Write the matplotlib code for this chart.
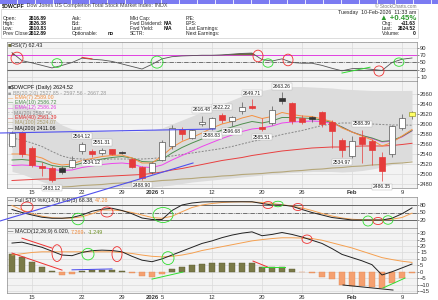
import matplotlib
matplotlib.use('Agg')
import matplotlib.pyplot as plt
from matplotlib.patches import Rectangle, Ellipse
from matplotlib.lines import Line2D
import numpy as np

plt.rcParams['font.family'] = ['Liberation Sans', 'DejaVu Sans']

W, H, DPI = 439, 300, 100

# ---------------- data ----------------
tick_pos = [2, 7, 11, 14, 15, 20, 25, 29, 34, 39]
tick_labels = ['15', '22', '29', '2026', '5', '12', '20', '26', 'Feb', '9']
bold_ticks = ['2026', 'Feb']

opens = [2557, 2585, 2552, 2516, 2513, 2512, 2515, 2546, 2546, 2542,
         2550, 2544, 2530, 2514, 2505, 2528, 2556, 2590, 2572, 2600,
         2592, 2618, 2606, 2627, 2636, 2594, 2602, 2652, 2642, 2613,
         2614, 2624, 2605, 2569, 2537, 2574, 2566, 2535, 2540, 2593,
         2616.89]
highs = [2586, 2587, 2556, 2524, 2516, 2516, 2536, 2564.12, 2550, 2551.31,
         2551, 2546, 2532, 2516, 2524, 2568, 2598, 2594, 2590, 2616.48,
         2614, 2622.22, 2616, 2645, 2649.71, 2612, 2636, 2663.26, 2645, 2618,
         2616, 2626, 2608, 2572, 2576, 2588.39, 2570, 2545, 2598, 2621,
         2626.38]
lows = [2554, 2535, 2514, 2497, 2483.12, 2500, 2512, 2540, 2534.12, 2538,
        2538, 2540, 2512, 2488.90, 2500, 2526, 2550, 2568, 2570, 2596,
        2588.83, 2603, 2596.68, 2620, 2630, 2585.51, 2598, 2640, 2600, 2600,
        2604, 2595, 2552, 2534.97, 2532, 2522, 2518, 2486.35, 2535, 2588,
        2610.83]
closes = [2583, 2540, 2518, 2512, 2488, 2505, 2528, 2560, 2541, 2548,
          2541, 2543, 2515, 2492, 2522, 2565, 2592, 2580, 2588, 2605,
          2612, 2609, 2614, 2635, 2632, 2590, 2629, 2646, 2606, 2604,
          2611, 2600, 2587, 2549, 2566, 2560, 2549, 2507, 2596, 2612.89,
          2624.52]
prev_close_start = 2550
label_high_days = [7, 9, 19, 21, 24, 27, 35]
label_low_days = [4, 8, 13, 20, 22, 25, 33, 37]

bb_upper = [2642, 2638, 2632, 2625, 2612, 2598, 2590, 2588, 2587, 2586,
            2585, 2585, 2585, 2586, 2588, 2592, 2600, 2608, 2616, 2624,
            2632, 2640, 2648, 2656, 2662, 2667, 2671, 2674, 2675, 2675,
            2674, 2673, 2672, 2670, 2669, 2668, 2667, 2667, 2667, 2667, 2667.28]
bb_lower = [2505, 2500, 2492, 2485, 2478, 2474, 2472, 2472, 2472, 2473,
            2474, 2475, 2475, 2474, 2474, 2476, 2478, 2481, 2484, 2486,
            2488, 2490, 2492, 2494, 2496, 2498, 2500, 2502, 2503, 2504,
            2505, 2505, 2505, 2504, 2505, 2507, 2510, 2514, 2519, 2524, 2527.85]
ma20 = [2572, 2568, 2562, 2555, 2545, 2536, 2531, 2530, 2529, 2529,
        2530, 2530, 2530, 2530, 2531, 2533, 2536, 2539, 2542, 2545,
        2548, 2551, 2555, 2560, 2565, 2569, 2574, 2579, 2583, 2587,
        2592, 2597, 2600, 2602, 2602, 2601, 2600, 2599, 2598, 2598, 2597.56]
ema7 = [2540, 2540, 2537, 2532, 2522, 2518, 2520, 2527, 2531, 2535,
        2537, 2538, 2532, 2522, 2522, 2536, 2553, 2565, 2573, 2582,
        2592, 2600, 2605, 2612, 2617, 2611, 2615, 2623, 2619, 2616,
        2615, 2610, 2605, 2592, 2584, 2576, 2568, 2556, 2563, 2576, 2589.00]
ema10 = [2528, 2529, 2527, 2524, 2517, 2514, 2516, 2522, 2526, 2530,
         2533, 2535, 2532, 2525, 2524, 2529, 2542, 2553, 2562, 2570,
         2580, 2588, 2594, 2600, 2605, 2602, 2606, 2613, 2613, 2612,
         2611, 2608, 2603, 2594, 2584, 2577, 2572, 2565, 2567, 2575, 2586.72]
ema12 = [2517, 2518, 2517, 2514, 2509, 2507, 2508, 2513, 2516, 2519,
         2521, 2522, 2520, 2514, 2513, 2518, 2528, 2537, 2546, 2555,
         2563, 2571, 2578, 2585, 2590, 2592, 2596, 2602, 2604, 2605,
         2606, 2605, 2601, 2594, 2584, 2577, 2571, 2564, 2566, 2574, 2586.26]
ema40 = [2487, 2488, 2489, 2490, 2490, 2491, 2492, 2493, 2494, 2495,
         2496, 2497, 2498, 2499, 2501, 2504, 2508, 2511, 2515, 2519,
         2523, 2527, 2530, 2533, 2537, 2540, 2543, 2546, 2548, 2550,
         2552, 2553, 2554, 2554, 2555, 2556, 2556, 2556, 2557, 2559, 2561.39]
ma100 = [2467, 2468, 2470, 2471, 2472, 2474, 2475, 2477, 2478, 2479,
         2481, 2482, 2483, 2484, 2485, 2487, 2488, 2490, 2491, 2493,
         2494, 2496, 2497, 2499, 2500, 2501, 2503, 2504, 2506, 2507,
         2509, 2510, 2512, 2513, 2515, 2516, 2518, 2519, 2521, 2522, 2524.07]

rsi = [77, 55, 49, 42, 35, 42, 50, 62, 59, 57,
       53, 46, 39, 32, 45, 60, 66, 68, 69, 70,
       70, 71, 73, 75, 76, 58, 54, 60, 50, 48,
       48, 42, 34, 27, 33, 34, 31, 28, 50, 59, 62.43]

sto_k = [62, 50, 40, 31, 27, 27, 30, 40, 55, 63,
         67, 58, 45, 28, 22, 22, 58, 80, 88, 92,
         93, 93, 93, 93, 93, 86, 80, 80, 75, 62,
         50, 40, 30, 25, 20, 20, 20, 20, 27, 45, 68.38]
sto_d = [78, 60, 45, 35, 29, 27, 28, 33, 45, 60,
         60, 57, 50, 40, 30, 27, 35, 53, 70, 80,
         86, 90, 92, 93, 92, 90, 86, 81, 76, 68,
         58, 46, 36, 28, 23, 21, 20, 20, 23, 30, 47.28]

macd = [22.3, 23, 21, 19, 16, 13, 12.5, 15, 16.4, 16.8,
        16.5, 15.5, 12, 9, 7.8, 10, 13, 16, 19, 22,
        24, 26.5, 28.5, 30, 31, 28, 29, 30.5, 29, 27,
        24.5, 22, 18, 13.5, 11, 8.5, 5.5, -2.5, 0, 3, 6.02]
signal = [13, 14, 15, 15.5, 15.5, 15.5, 15.5, 15.5, 15.5, 15.5,
          15.5, 15, 14.2, 13, 12, 11.6, 12, 13, 14.5, 16.5,
          18, 19.5, 21, 22.5, 24, 25, 25.8, 26.4, 26.4, 26.2,
          25.8, 24.5, 22.5, 20.5, 18.5, 16, 13.5, 11, 9.5, 8.2, 7.269]
hist = [13.5, 11.6, 7.3, 3.9, 0.5, -2.5, -1.5, 0.8, 1.0, 1.0,
        1.2, 0.3, -1.0, -3.0, -4.0, -1.8, 2.0, 3.5, 5.0, 6.0,
        7.0, 6.5, 6.5, 6.8, 6.8, 3.5, 3.5, 3.8, 2.0, -0.5,
        -1.2, -3.9, -5.7, -10.3, -10.8, -11.0, -11.5, -13.0, -9.0, -5.2, -1.249]

# user drawn annotations: (day, value, width_days, height_value, colour)
rsi_circles = [(0.5, 62, 1.2, 33, 'r'), (4.5, 48.5, 1.0, 24, 'g'), (14.5, 51, 1.2, 33, 'g'),
               (24.6, 68, 1.0, 32, 'r'), (25.6, 48.5, 1.0, 23, 'g'), (27.6, 57, 1.0, 32, 'r'),
               (36.7, 26.5, 1.0, 28, 'r'), (38.7, 51, 1.0, 23, 'g')]
rsi_segments = [((7, 64), (8, 60), 'r'), ((33, 21), (35.8, 37), 'g')]
sto_circles = [(1.5, 72, 1.2, 40, 'r'), (6.6, 24, 1.2, 46, 'g'), (9.5, 52, 1.2, 40, 'r'),
               (15.1, 40, 2.0, 60, 'g'), (25.6, 80, 1.0, 28, 'r'), (26.6, 84, 1.0, 22, 'g'),
               (28.6, 72, 1.0, 28, 'r'), (35.6, 16, 1.0, 40, 'g'), (36.6, 16, 1.0, 28, 'r'),
               (37.6, 20, 1.0, 34, 'g')]
macd_circles = [(4.5, 14.5, 1.0, 13, 'r'), (7.6, 13.7, 1.2, 9, 'g'), (10.5, 13.7, 1.0, 11.6, 'r'),
                (15.6, 10.6, 1.2, 10, 'g'), (29.5, 25.3, 1.0, 6.5, 'r')]
macd_segments = [((1, 26.1), (4, 18.4), 'r'), ((0, 14.5), (5, 1.3), 'r'),
                 ((6, 1.5), (10, 2.2), 'b'), ((14, -5.7), (17.1, -0.2), 'g'),
                 ((24.1, 8.3), (25.6, 3.6), 'r'), ((25, 3.6), (27.3, 3.6), 'g'),
                 ((33.1, -10.3), (38.1, -14.2), 'k'), ((37.1, -12.6), (39.3, -4.9), 'g')]
price_trendlines = [((-1.2, 2582), (20.3, 2590)), ((-1.2, 2406), (18.1, 2522))]

legend_items = [('■ ', 'BB(20,2.0) 2527.85 - 2597.56 - 2667.28', '#9a9a9a'),
                ('— ', 'EMA(7) 2589.00', '#f08a3a'),
                ('— ', 'EMA(10) 2586.72', '#4e8a4e'),
                ('— ', 'EMA(12) 2586.26', '#e040e0'),
                ('- - ', 'MA(20) 2597.56', '#888888'),
                ('— ', 'EMA(40) 2561.39', '#e03030'),
                ('— ', 'MA(100) 2524.07', '#a89a6a'),
                ('— ', 'MA(200) 2411.06', '#111111')]

info_rows = [('Open:', '2616.89', 'Ask:', '', 'Mkt Cap:', '', 'P/E:'),
             ('High:', '2626.38', 'Bid:', '', 'Fwd Dividend:', 'N/A', 'EPS:'),
             ('Low:', '2610.83', 'Last:', '', 'Fwd Yield:', 'N/A', 'Last Earnings:'),
             ('Prev Close:', '2612.89', 'Optionable:', 'no', 'SCTR:', '', 'Next Earnings:')]
quote_rows = [('Chg:', '+11.63'), ('Last:', '2624.52'), ('Volume:', '0')]

COL = {'r': '#ee3030', 'g': '#30dd30', 'b': '#4444ee', 'k': '#222222'}
days = np.arange(len(closes))

fig = plt.figure(figsize=(W / DPI, H / DPI), dpi=DPI)
fig.patch.set_facecolor('white')


def rect(top, bottom, left=7, right=417):
    return [left / W, 1 - bottom / H, (right - left) / W, (bottom - top) / H]


def fy(y):
    return 1 - y / H


def put_text(x, y, pieces, size=4.2):
    r = fig.canvas.get_renderer()
    for s, c, bold in pieces:
        t = fig.text(x / W, fy(y), s, color=c, fontsize=size,
                     fontweight='bold' if bold else 'normal', va='center', ha='left')
        x += t.get_window_extent(r).width


def style(ax, ylim, yticks, show_x=False):
    ax.set_facecolor('#f3f3f3')
    ax.set_xlim(-0.5, 40.5)
    ax.set_ylim(*ylim)
    ax.yaxis.tick_right()
    ax.set_yticks(yticks)
    ax.tick_params(axis='y', length=1.5, width=0.4, pad=0.8, labelsize=4.2,
                   colors='#333333')
    ax.set_xticks(tick_pos)
    ax.grid(True, color='#dadada', lw=0.5)
    ax.set_axisbelow(True)
    for s in ax.spines.values():
        s.set_color('#8c8c8c')
        s.set_linewidth(0.5)
    if show_x:
        ax.set_xticklabels(tick_labels)
        ax.tick_params(axis='x', length=0, pad=1.2, labelsize=4.2, colors='#333333')
        for lab in ax.get_xticklabels():
            if lab.get_text() in bold_ticks:
                lab.set_fontweight('bold')
    else:
        ax.tick_params(axis='x', length=0, labelbottom=False)


def draw_circles(ax, items):
    for x, y, w, h, c in items:
        ax.add_patch(Ellipse((x, y), w, h, fill=False, edgecolor=COL[c], lw=0.6,
                             zorder=6, clip_on=False))


def draw_segments(ax, items):
    for (x0, y0), (x1, y1), c in items:
        ax.plot([x0, x1], [y0, y1], color=COL[c], lw=0.7, zorder=6)


# ---------------- header ----------------
fig.add_artist(Rectangle((0, fy(3.5)), 1, 3.5 / H, transform=fig.transFigure,
                         facecolor='#7b7bf2', edgecolor='none'))
for sx in range(17, 439, 18):
    fig.add_artist(Line2D([sx / W, sx / W], [fy(3.5), 1], transform=fig.transFigure,
                          color='white', lw=0.6))
put_text(2, 6, [('$DWCPF', '#111111', True),
                (' Dow Jones US Completion Total Stock Market Index: INDX', '#444444', False)],
         size=3.9)
fig.text(417 / W, fy(6), '© StockCharts.com', ha='right', va='center', fontsize=3.4,
         color='#777777')
fig.add_artist(Rectangle((1 / W, fy(38)), 417 / W, 29 / H, transform=fig.transFigure,
                         facecolor='white', edgecolor='#cfcfcf', lw=0.5))
row_y = [18.5, 23.5, 28.5, 33.5]
info_fs = 3.6
for y, row in zip(row_y, info_rows):
    fig.text(3 / W, fy(y), row[0], fontsize=info_fs, va='center', color='#222222')
    fig.text(29 / W, fy(y), row[1], fontsize=info_fs, va='center', color='#111111',
             fontweight='bold')
    fig.text(72 / W, fy(y), row[2], fontsize=info_fs, va='center', color='#222222')
    fig.text(108 / W, fy(y), row[3], fontsize=info_fs, va='center', color='#111111',
             fontweight='bold')
    fig.text(130 / W, fy(y), row[4], fontsize=info_fs, va='center', color='#222222')
    fig.text(164 / W, fy(y), row[5], fontsize=info_fs, va='center', color='#111111',
             fontweight='bold')
    fig.text(186 / W, fy(y), row[6], fontsize=info_fs, va='center', color='#222222')
fig.text(416 / W, fy(12.5), 'Tuesday  10-Feb-2026  11:33 am', ha='right', va='center',
         fontsize=3.8, color='#222222')
fig.text(416 / W, fy(18), '▲ +0.45%', ha='right', va='center', fontsize=5.6,
         color='#2e9a2e', fontweight='bold')
for y, (lab, val) in zip(row_y[1:], quote_rows):
    fig.text(382 / W, fy(y), lab, ha='left', va='center', fontsize=info_fs, color='#222222')
    fig.text(416 / W, fy(y), val, ha='right', va='center', fontsize=info_fs, color='#111111',
             fontweight='bold')

# ---------------- RSI panel ----------------
ax_rsi = fig.add_axes(rect(42, 81))
style(ax_rsi, (-1, 106.5), [10, 30, 50, 70, 90])
rsi_arr = np.array(rsi, dtype=float)
ax_rsi.fill_between(days, rsi_arr, 70, where=rsi_arr > 70, interpolate=True,
                    color='#6e6e3c', lw=0, zorder=2)
ax_rsi.axhline(70, color='#e040e0', lw=0.7, zorder=1.5)
ax_rsi.axhline(50, color='#444444', lw=0.5, ls='-.', zorder=1.5)
ax_rsi.axhline(30, color='#666666', lw=0.8, zorder=1.5)
ax_rsi.plot(days, rsi, color='#555555', lw=0.6, zorder=3)
draw_circles(ax_rsi, rsi_circles)
draw_segments(ax_rsi, rsi_segments)
put_text(8, 45, [('■', '#6e6e3c', False), ('RSI(7) 62.43', '#222222', False)], size=4.0)

# ---------------- price panel ----------------
ax_px = fig.add_axes(rect(81, 188))
style(ax_px, (2472, 2686), list(range(2480, 2661, 20)), show_x=True)
ax_px.fill_between(days, bb_lower, bb_upper, color='#dcdcdc', lw=0, zorder=1)
ax_px.plot(days, ma100, color='#b5a77a', lw=0.8, zorder=2)
ax_px.plot(days, ema40, color='#e84040', lw=0.7, zorder=2)
ax_px.plot(days, ma20, color='#888888', lw=0.7, ls=(0, (2, 1.5)), zorder=2)
ax_px.plot(days, ema12, color='#ee44ee', lw=0.7, zorder=2)
ax_px.plot(days, ema10, color='#4f8f4f', lw=0.7, zorder=2)
ax_px.plot(days, ema7, color='#f59040', lw=0.7, zorder=2)

prev = prev_close_start
for i in days:
    o, h, l, c = opens[i], highs[i], lows[i], closes[i]
    red = c < prev
    col = '#e53b3b' if red else '#333333'
    ax_px.vlines(i, l, h, color=col if red else '#555555', lw=0.5, zorder=3)
    if i == days[-1]:
        face, edge = '#ffff66', '#999933'
    elif c >= o:
        face, edge = '#ffffff', col if red else '#555555'
    else:
        face, edge = col, col
    ax_px.add_patch(Rectangle((i - 0.27, min(o, c)), 0.54, max(abs(c - o), 0.8),
                              facecolor=face, edgecolor=edge, lw=0.5, zorder=4))
    prev = c

box = dict(boxstyle='square,pad=0.12', fc='white', ec='#b0b0b0', lw=0.3)
for i in label_high_days:
    ax_px.annotate(f'{highs[i]:.2f}', (i, highs[i]), xytext=(0, 4.2),
                   textcoords='offset points', ha='center', va='center', fontsize=3.6,
                   color='#222222', bbox=box, zorder=7)
for i in label_low_days:
    ax_px.annotate(f'{lows[i]:.2f}', (i, lows[i]), xytext=(0, -4.2),
                   textcoords='offset points', ha='center', va='center', fontsize=3.6,
                   color='#222222', bbox=box, zorder=7)

for (x0, y0), (x1, y1) in price_trendlines:
    fig.add_artist(Line2D([x0, x1], [y0, y1], transform=ax_px.transData,
                          color='#5050ee', lw=0.8, zorder=5))

put_text(8, 87, [('■', '#555555', False), ('$DWCPF (Daily) 2624.52', '#111111', False)],
         size=4.0)
for k, (mark, txt, c) in enumerate(legend_items):
    put_text(8, 93 + k * 5, [(mark, c, False), (txt, c, False)], size=3.8)

# ---------------- Full STO panel ----------------
ax_sto = fig.add_axes(rect(197, 228))
style(ax_sto, (-12, 112), [20, 50, 80])
ax_sto.axhline(80, color='#666666', lw=0.7, zorder=1.5)
ax_sto.axhline(20, color='#666666', lw=0.7, zorder=1.5)
ax_sto.axhline(50, color='#444444', lw=0.5, ls='-.', zorder=1.5)
ax_sto.plot(days, sto_d, color='#f5a050', lw=0.7, zorder=3)
ax_sto.plot(days, sto_k, color='#222222', lw=0.7, zorder=3)
draw_circles(ax_sto, sto_circles)
put_text(8, 200.5, [('— Full STO %K(14,3) %D(3) 68.38', '#222222', False),
                    (', ', '#222222', False), ('47.28', '#f08a3a', False)], size=3.9)

# ---------------- MACD panel ----------------
ax_macd = fig.add_axes(rect(228, 293))
style(ax_macd, (-16.5, 34), list(range(-15, 31, 5)), show_x=True)
hist_arr = np.array(hist)
ax_macd.bar(days, hist_arr, width=0.62,
            color=np.where(hist_arr >= 0, '#7a7a48', '#f5a070'),
            edgecolor=np.where(hist_arr >= 0, '#5a5a30', '#e08a55'), lw=0.3, zorder=2)
ax_macd.plot(days, signal, color='#f5a050', lw=0.7, zorder=3)
ax_macd.plot(days, macd, color='#222222', lw=0.7, zorder=3)
draw_circles(ax_macd, macd_circles)
draw_segments(ax_macd, macd_segments)
put_text(8, 232, [('— MACD(12,26,9) 6.020', '#222222', False), (', ', '#222222', False),
                  ('7.269', '#f08a3a', False), (', ', '#222222', False),
                  ('-1.249', '#6b8e23', False)], size=3.9)

fig.savefig('out.png', dpi=DPI)
plt.close(fig)
